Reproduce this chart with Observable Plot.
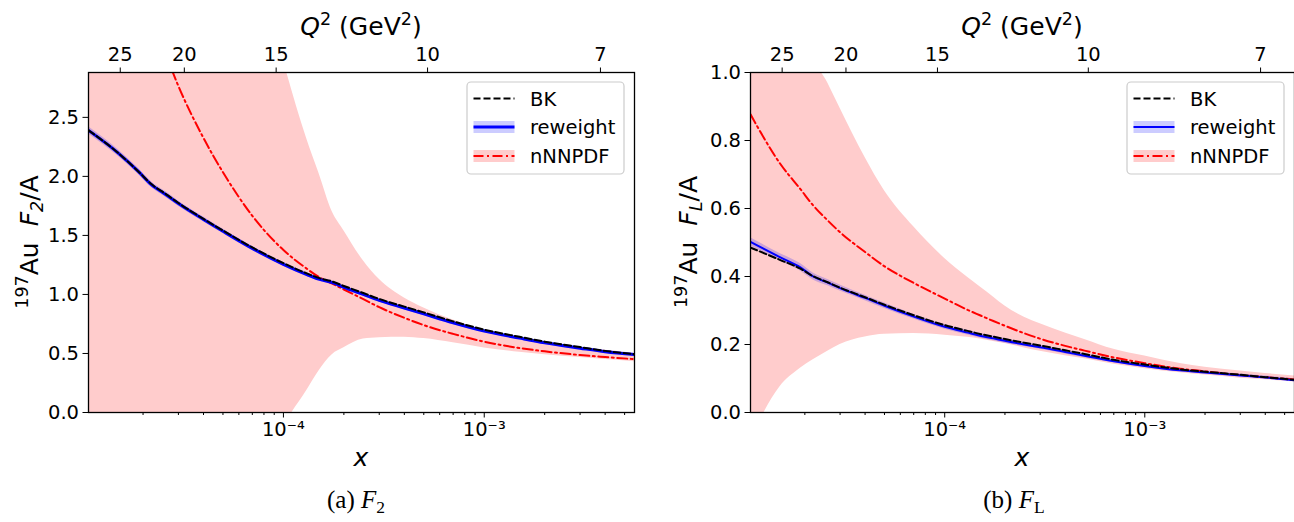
<!DOCTYPE html>
<html><head><meta charset="utf-8">
<script src="https://cdn.jsdelivr.net/npm/d3@7"></script>
<script src="https://cdn.jsdelivr.net/npm/@observablehq/plot@0.6"></script>
<style>
html,body{margin:0;padding:0;background:#fff;overflow:hidden;}
#wrap{position:relative;width:1294px;height:522px;overflow:hidden;background:#fff;}
#left{position:absolute;left:0;top:0;}
#right{position:absolute;left:649px;top:0;}
</style></head><body><div id="wrap"><div id="left"></div><div id="right"></div></div>
<script>
// ---- data ----
const xGrid = [1.07e-5, 1.5e-5, 1.9e-5, 2.2e-5, 2.6e-5, 3e-5, 4e-5, 5e-5, 7e-5, 1e-4, 1.3e-4, 1.5e-4, 1.75e-4, 2e-4, 2.5e-4, 3e-4, 4e-4, 5e-4, 7e-4, 1e-3, 1.5e-3, 2e-3, 3e-3, 4e-3, 5.6e-3];

const f2Reweight   = [2.39, 2.20, 2.04, 1.93, 1.845, 1.77, 1.635, 1.535, 1.39, 1.255, 1.17, 1.13, 1.10, 1.06, 1.0, 0.95, 0.885, 0.835, 0.76, 0.69, 0.63, 0.59, 0.545, 0.515, 0.49];
const f2ReweightLo = [2.36, 2.172, 2.014, 1.905, 1.821, 1.748, 1.615, 1.516, 1.372, 1.238, 1.154, 1.114, 1.084, 1.045, 0.985, 0.935, 0.871, 0.821, 0.746, 0.677, 0.617, 0.577, 0.533, 0.503, 0.478];
const f2ReweightHi = [2.42, 2.228, 2.066, 1.955, 1.869, 1.792, 1.655, 1.554, 1.408, 1.272, 1.186, 1.146, 1.116, 1.075, 1.015, 0.965, 0.899, 0.849, 0.774, 0.703, 0.643, 0.603, 0.557, 0.527, 0.502];
const f2BK         = [2.39, 2.20, 2.04, 1.935, 1.85, 1.775, 1.64, 1.542, 1.398, 1.265, 1.18, 1.14, 1.11, 1.072, 1.012, 0.962, 0.897, 0.848, 0.772, 0.702, 0.641, 0.60, 0.554, 0.522, 0.494];
const f2NN         = [null, null, null, 3.35, 3.03, 2.765, 2.325, 2.035, 1.666, 1.376, 1.221, 1.148, 1.091, 1.042, 0.96, 0.892, 0.802, 0.74, 0.666, 0.60, 0.546, 0.518, 0.487, 0.47, 0.452];
const f2NNLo       = [-1, -1, -1, -1, -1, -1, -1, -1, -1, -0.14, 0.18, 0.35, 0.49, 0.548, 0.622, 0.634, 0.638, 0.626, 0.59, 0.547, 0.51, 0.49, 0.465, 0.449, 0.43];
const f2NNHi       = [4, 4, 4, 4, 4, 4, 4, 4, 4, 2.98, 2.33, 2.03, 1.70, 1.54, 1.285, 1.128, 0.97, 0.886, 0.783, 0.695, 0.63, 0.59, 0.55, 0.527, 0.50];

const flReweight   = [0.502, 0.457, 0.427, 0.400, 0.382, 0.366, 0.337, 0.314, 0.282, 0.252, 0.235, 0.226, 0.218, 0.211, 0.200, 0.192, 0.178, 0.167, 0.151, 0.137, 0.124, 0.118, 0.109, 0.103, 0.095];
const flReweightLo = [0.49, 0.446, 0.416, 0.39, 0.373, 0.357, 0.329, 0.306, 0.275, 0.245, 0.228, 0.219, 0.211, 0.204, 0.194, 0.186, 0.172, 0.161, 0.146, 0.132, 0.119, 0.113, 0.105, 0.099, 0.091];
const flReweightHi = [0.514, 0.468, 0.438, 0.41, 0.391, 0.375, 0.345, 0.322, 0.289, 0.259, 0.242, 0.233, 0.225, 0.218, 0.206, 0.198, 0.184, 0.173, 0.156, 0.142, 0.129, 0.123, 0.113, 0.107, 0.099];
const flBK         = [0.485, 0.449, 0.423, 0.401, 0.383, 0.367, 0.339, 0.317, 0.286, 0.257, 0.240, 0.231, 0.223, 0.216, 0.205, 0.197, 0.183, 0.172, 0.155, 0.141, 0.127, 0.12, 0.111, 0.104, 0.096];
const flNN         = [0.877, 0.733, 0.657, 0.609, 0.565, 0.53, 0.472, 0.43, 0.381, 0.335, 0.302, 0.286, 0.269, 0.255, 0.233, 0.217, 0.196, 0.182, 0.162, 0.145, 0.129, 0.121, 0.11, 0.104, 0.097];
const flNNLo       = [-0.08, 0.075, 0.13, 0.155, 0.18, 0.2, 0.222, 0.23, 0.232, 0.227, 0.221, 0.216, 0.209, 0.203, 0.19, 0.18, 0.167, 0.158, 0.142, 0.129, 0.117, 0.11, 0.101, 0.096, 0.09];
const flNNHi       = [1.3, 1.3, 1.3, 1.06, 0.97, 0.895, 0.75, 0.652, 0.546, 0.453, 0.398, 0.37, 0.34, 0.313, 0.28, 0.261, 0.234, 0.215, 0.186, 0.166, 0.144, 0.133, 0.122, 0.115, 0.107];

const xMajorTicks  = [1e-4, 1e-3];
const xMajorLabels = ["10\u207B\u2074", "10\u207B\u00B3"];
const xMinorTicks  = [2e-5, 3e-5, 4e-5, 5e-5, 6e-5, 7e-5, 8e-5, 9e-5, 2e-4, 3e-4, 4e-4, 5e-4, 6e-4, 7e-4, 8e-4, 9e-4, 2e-3, 3e-3, 4e-3, 5e-3];
const q2Labels     = ["25", "20", "15", "10", "7"];
const q2TickX      = [1.54e-5, 3.21e-5, 9.2e-5, 5.22e-4, 3.79e-3];
const yTicksF2     = [0, 0.5, 1.0, 1.5, 2.0, 2.5];
const yTicksFL     = [0, 0.2, 0.4, 0.6, 0.8, 1.0];
const legendLabels = ["BK", "reweight", "nNNPDF"];
const xDomain = [1.07e-5, 5.6e-3];

function rows(rw, rwLo, rwHi, bk, nn, nnLo, nnHi) {
  return xGrid.map((x, i) => ({x, rw: rw[i], rwLo: rwLo[i], rwHi: rwHi[i], bk: bk[i], nn: nn[i], nnLo: nnLo[i], nnHi: nnHi[i]}));
}

const FONT = "DejaVu Sans";
const q2Rows = q2TickX.map((x, i) => ({x, label: q2Labels[i]}));
const majorRows = xMajorTicks.map((x, i) => ({x, label: xMajorLabels[i]}));

function panel(cfg) {
  const data = rows(...cfg.series);
  const svg = Plot.plot({
    width: cfg.width, height: 522,
    marginLeft: cfg.marginLeft, marginRight: cfg.marginRight, marginTop: 72, marginBottom: 110,
    x: {type: "log", domain: xDomain},
    y: {domain: cfg.yDomain},
    style: {fontFamily: FONT, fontSize: "19.5px", color: "black", background: "white", overflow: "visible"},
    marks: [
      Plot.areaY(data, {x: "x", y1: "nnLo", y2: "nnHi", fill: "#ffcccc", curve: "monotone-x", clip: true}),
      Plot.areaY(data, {x: "x", y1: "rwLo", y2: "rwHi", fill: "blue", fillOpacity: 0.2, curve: "monotone-x", clip: true}),
      Plot.lineY(data, {x: "x", y: "nn", stroke: "red", strokeWidth: 2, strokeDasharray: "10,3.5,2,3.5", curve: "monotone-x", clip: true}),
      Plot.lineY(data, {x: "x", y: "rw", stroke: "blue", strokeWidth: cfg.blueWidth, curve: "monotone-x", clip: true}),
      Plot.lineY(data, {x: "x", y: "bk", stroke: "black", strokeWidth: 2, strokeDasharray: "7,3", curve: "monotone-x", clip: true}),
      Plot.axisX({anchor: "bottom", ticks: xMinorTicks, tickSize: 3, tickFormat: () => "", label: null}),
      Plot.axisX({anchor: "bottom", ticks: xMajorTicks, tickSize: 5.5, tickFormat: () => "", label: null}),
      Plot.text(majorRows, {x: "x", text: "label", frameAnchor: "bottom", lineAnchor: "top", dy: 9.5}),
      Plot.axisX({anchor: "top", ticks: q2TickX, tickSize: 5.5, tickFormat: () => "", label: null}),
      Plot.text(q2Rows, {x: "x", text: "label", frameAnchor: "top", lineAnchor: "bottom", dy: -11.5}),
      Plot.axisY({ticks: cfg.yTicks, tickSize: 5.5, tickPadding: 4, tickFormat: d => d.toFixed(1), label: null}),
      Plot.frame({stroke: "black", strokeWidth: 1.3})
    ]
  });
  const s = d3.select(svg);
  const cx = cfg.centerX;
  // top label Q^2 (GeV^2)
  const q = s.append("text").attr("x", cx).attr("y", 35).attr("text-anchor", "middle")
    .attr("font-family", FONT).attr("font-size", 25).attr("fill", "black");
  q.append("tspan").attr("font-style", "italic").text("Q");
  q.append("tspan").attr("dy", -10).attr("font-size", 17.5).text("2");
  q.append("tspan").attr("dy", 10).text(" (GeV");
  q.append("tspan").attr("dy", -10).attr("font-size", 17.5).text("2");
  q.append("tspan").attr("dy", 10).text(")");
  // x label
  s.append("text").attr("x", cx).attr("y", 466).attr("text-anchor", "middle")
    .attr("font-family", FONT).attr("font-size", 25).attr("font-style", "italic").attr("fill", "black").text("x");
  // y label
  const yl = s.append("text").attr("transform", `translate(${cfg.yLabelX},242) rotate(-90)`).attr("text-anchor", "middle")
    .attr("font-family", FONT).attr("font-size", 25).attr("fill", "black");
  yl.append("tspan").attr("dy", -10).attr("font-size", 17.5).text("197");
  yl.append("tspan").attr("dy", 10).text("Au");
  yl.append("tspan").attr("dx", 16).attr("font-style", "italic").text("F");
  yl.append("tspan").attr("dy", 5).attr("font-size", 17.5).attr("font-style", "italic").text(cfg.sub);
  yl.append("tspan").attr("dy", -5).text("/A");
  // caption
  const cap = s.append("text").attr("x", cfg.captionX).attr("y", 508).attr("text-anchor", "middle")
    .attr("font-family", "Liberation Serif").attr("font-size", 25).attr("fill", "black");
  cap.append("tspan").text(cfg.capPrefix + " ");
  cap.append("tspan").attr("font-style", "italic").text("F");
  cap.append("tspan").attr("dy", 5).attr("font-size", 17.5).text(cfg.capSub);
  // legend
  const lx = cfg.legendX, ly = 82;
  const g = s.append("g").attr("text-anchor", "start");
  g.append("rect").attr("x", lx).attr("y", ly).attr("width", 157).attr("height", 92).attr("rx", 4)
    .attr("fill", "white").attr("fill-opacity", 0.8).attr("stroke", "#cccccc").attr("stroke-width", 1.2);
  const hx0 = lx + 6.5, hx1 = lx + 47.5, tx = lx + 63;
  const rowsY = [ly + 16.5, ly + 45, ly + 74];
  g.append("line").attr("x1", hx0).attr("x2", hx1).attr("y1", rowsY[0]).attr("y2", rowsY[0])
    .attr("stroke", "black").attr("stroke-width", 2).attr("stroke-dasharray", "7,3");
  g.append("rect").attr("x", hx0).attr("y", rowsY[1] - 6).attr("width", hx1 - hx0).attr("height", 12).attr("fill", "blue").attr("fill-opacity", 0.2);
  g.append("line").attr("x1", hx0).attr("x2", hx1).attr("y1", rowsY[1]).attr("y2", rowsY[1])
    .attr("stroke", "blue").attr("stroke-width", cfg.blueWidth);
  g.append("rect").attr("x", hx0).attr("y", rowsY[2] - 6).attr("width", hx1 - hx0).attr("height", 12).attr("fill", "red").attr("fill-opacity", 0.2);
  g.append("line").attr("x1", hx0).attr("x2", hx1).attr("y1", rowsY[2]).attr("y2", rowsY[2])
    .attr("stroke", "red").attr("stroke-width", 2).attr("stroke-dasharray", "10,3.5,2,3.5");
  legendLabels.forEach((t, i) => {
    g.append("text").attr("x", tx).attr("y", rowsY[i] + 7).attr("text-anchor", "start").attr("font-family", FONT).attr("font-size", 19.5)
      .attr("fill", "black").text(t);
  });
  return svg;
}

document.getElementById("left").appendChild(panel({
  series: [f2Reweight, f2ReweightLo, f2ReweightHi, f2BK, f2NN, f2NNLo, f2NNHi],
  width: 650, marginLeft: 88, marginRight: 16, yDomain: [0, 2.88], yTicks: yTicksF2,
  blueWidth: 3, centerX: 361, yLabelX: 38, sub: "2", captionX: 356, capPrefix: "(a)", capSub: "2",
  legendX: 467
}));
document.getElementById("right").appendChild(panel({
  series: [flReweight, flReweightLo, flReweightHi, flBK, flNN, flNNLo, flNNHi],
  width: 645, marginLeft: 101, marginRight: 0, yDomain: [0, 1.0], yTicks: yTicksFL,
  blueWidth: 2, centerX: 373, yLabelX: 48, sub: "L", captionX: 365, capPrefix: "(b)", capSub: "L",
  legendX: 478
}));
</script>
</body></html>
